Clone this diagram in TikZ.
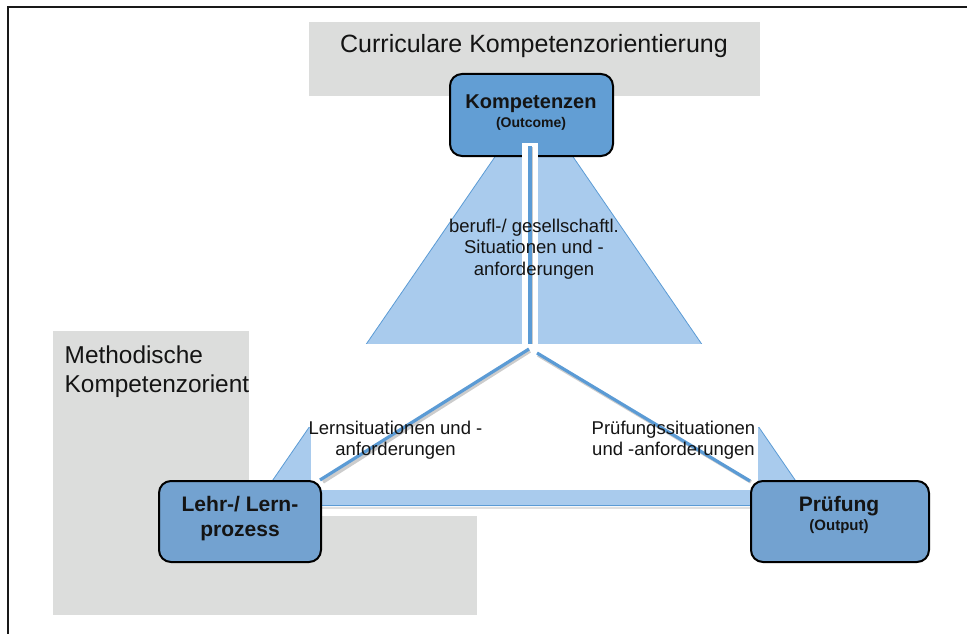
\documentclass[tikz,border=0pt]{standalone}
\usepackage{fontspec}
\setmainfont{Liberation Sans}
\definecolor{greyc}{RGB}{220,221,220}
\definecolor{lightblue}{RGB}{169,203,237}
\definecolor{lineblue}{RGB}{91,155,213}
\definecolor{kfill}{RGB}{98,158,212}
\definecolor{nfill}{RGB}{115,162,208}
\definecolor{textc}{RGB}{20,20,20}
\definecolor{framec}{RGB}{25,25,25}
\begin{document}
\begin{tikzpicture}[x=1pt,y=-1pt,
  compbox/.style={draw=black, line width=2pt, rounded corners=12pt, inner sep=0pt, anchor=north west},
  linkline/.style={draw=lineblue, line width=3.2pt},
  shadowline/.style={draw=black, opacity=0.2, line width=3.5pt},
  big/.style={font=\fontsize{25}{29}\selectfont, text=textc, inner sep=0pt},
  lbl/.style={align=center, font=\fontsize{18.5}{21.5}\selectfont, text=textc, inner sep=0pt, anchor=north},
  ttl/.style={font=\fontsize{21}{25}\selectfont\bfseries, text=textc, inner sep=0pt, anchor=base},
  sub/.style={font=\fontsize{15}{18}\selectfont\bfseries, text=textc, inner sep=0pt, anchor=base}
]
\useasboundingbox (0,0) rectangle (967,634);
\fill[white] (0,0) rectangle (967,634);
% frame
\draw[line width=2.5pt, draw=framec] (8,634) -- (8,7) -- (967,7);
% grey boxes
\fill[greyc] (309,22) rectangle (760,96);
\node[big, anchor=base] (curr) at (534,53) {Curriculare Kompetenzorientierung};
\fill[greyc] (53,331) rectangle (249,615);
\fill[greyc] (53,516) rectangle (477,615);
\node[big, font=\fontsize{24.4}{29}\selectfont, anchor=base west] (meth1) at (64.5,363) {Methodische};
\begin{scope}
  \clip (53,331) rectangle (249,615);
  \node[big, font=\fontsize{24.4}{29}\selectfont, anchor=base west] (meth2) at (64.5,392) {Kompetenzorientierung};
\end{scope}
% big triangle
\fill[lightblue] (534,100) -- (813,506) -- (255,506) -- cycle;
\draw[lineblue, line width=0.8pt] (255,506) -- (534,100) -- (813,506);
\draw[black, opacity=0.12, line width=2pt] (255,507.5) -- (813,507.5);
\draw[lineblue, line width=1.6pt] (255,505.5) -- (813,505.5);
% white overlays
\fill[white] (249,344) rectangle (830,427);
\fill[white] (311,427) rectangle (758,490);
% nodes
\node[compbox, fill=kfill, minimum width=163pt, minimum height=82pt] (K) at (449,73) {};
\node[compbox, fill=nfill, minimum width=162pt, minimum height=81pt] (L) at (158,480) {};
\node[compbox, fill=nfill, minimum width=178pt, minimum height=81pt] (P) at (750,480) {};
% white strip through Kompetenzen bottom
\fill[white] (522,143) rectangle (538,344);
% connectors
\coordinate (hubT) at (530,344);
\coordinate (hubL) at (529,349);
\coordinate (hubR) at (537,353);
\coordinate (kst) at (530,146);
\draw[shadowline] ([xshift=1.5pt,yshift=-1pt]kst) -- ([xshift=1.5pt]hubT);
\draw[linkline] (kst) -- (hubT);
\draw[shadowline] ([xshift=1pt,yshift=-2pt]hubL) -- ([xshift=1pt,yshift=-2pt]L.north east);
\draw[linkline] (hubL) -- ([xshift=-2pt]L.north east);
\draw[shadowline] ([xshift=1pt,yshift=-2pt]hubR) -- ([xshift=1pt,yshift=-2pt]P.north west);
\draw[linkline] (hubR) -- ([yshift=-1pt]P.north west);
% labels
\node[lbl] (beruf) at (534,218.5) {berufl-/ gesellschaftl.\\Situationen und -\\anforderungen};
\node[lbl] (lern) at (395.5,420.5) {Lernsituationen und -\\anforderungen};
\node[lbl] (pruef) at (673.5,420.5) {Prüfungssituationen\\und -anforderungen};
% node texts
\node[ttl, font=\fontsize{20}{24}\selectfont\bfseries] (Kt) at (531,109) {Kompetenzen};
\node[sub, font=\fontsize{14}{17}\selectfont\bfseries] (Ks) at (531,128) {(Outcome)};
\node[ttl] (Lt1) at (240,511) {Lehr-/ Lern-};
\node[ttl] (Lt2) at (240,536) {prozess};
\node[ttl] (Pt) at (839,511) {Prüfung};
\node[sub] (Ps) at (839,530) {(Output)};
\end{tikzpicture}
\end{document}
